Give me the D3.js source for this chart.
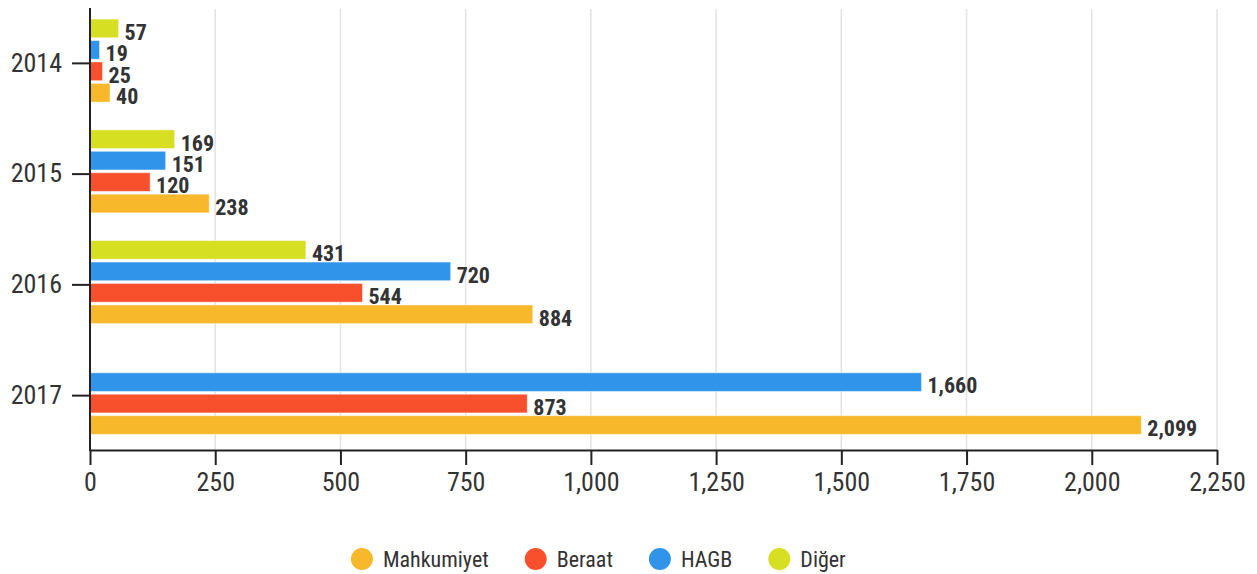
<!DOCTYPE html>
<html><head><meta charset="utf-8">
<script src="https://cdn.jsdelivr.net/npm/d3@7"></script>
<style>body{margin:0;background:#fff}</style></head>
<body><svg id="c" width="1257" height="574"></svg>
<script>
const years = ["2014", "2015", "2016", "2017"];
const seriesNames = ["Mahkumiyet", "Beraat", "HAGB", "Diğer"];
const mahkumiyet = [40, 238, 884, 2099];
const beraat = [25, 120, 544, 873];
const hagb = [19, 151, 720, 1660];
const diger = [57, 169, 431, null];
const xTicks = [0, 250, 500, 750, 1000, 1250, 1500, 1750, 2000, 2250];
const colors = ["#f7b92b", "#f84f2d", "#3095ea", "#d7df23"];

function avail(f) {
  const c = document.createElement("canvas").getContext("2d");
  const s = "Mahkumiyet 2014 HAGB";
  c.font = "40px monospace"; const a = c.measureText(s).width;
  c.font = `40px "${f}", monospace`; const b = c.measureText(s).width;
  return a !== b;
}
const font = ["Roboto Condensed", "Liberation Sans Narrow", "Arial Narrow", "DejaVu Sans Condensed", "Roboto"].find(avail) || "Roboto";

const seriesValues = [mahkumiyet, beraat, hagb, diger];
const svg = d3.select("#c").style("font-family", `"${font}", sans-serif`);

const x = d3.scaleLinear().domain([0, 2250]).range([90, 1217]);
const y = d3.scaleBand().domain(years).range([8, 451]);
const slotOrder = ["Diğer", "HAGB", "Beraat", "Mahkumiyet"];
const inner = d3.scaleBand().domain(slotOrder).range([0, y.bandwidth()])
  .paddingInner(0.13).paddingOuter(0.647).align(0.4);

// gridlines
svg.append("g").selectAll("line").data(xTicks.filter(d => d > 0)).join("line")
  .attr("x1", d => x(d)).attr("x2", d => x(d))
  .attr("y1", 9).attr("y2", 450)
  .attr("stroke", "#e3e3e3").attr("stroke-width", 1.5);

// bars
const rows = [];
years.forEach((yr, i) => {
  seriesNames.forEach((s, j) => {
    const v = seriesValues[j][i];
    if (v != null) rows.push({ yr, s, v, c: colors[j] });
  });
});
const g = svg.append("g");
g.selectAll("rect").data(rows).join("rect")
  .attr("x", x(0))
  .attr("y", d => y(d.yr) + inner(d.s))
  .attr("width", d => x(d.v) - x(0))
  .attr("height", inner.bandwidth())
  .attr("fill", d => d.c)
  .attr("stroke", "rgba(255,255,255,0.45)").attr("stroke-width", 1);

g.selectAll("text").data(rows).join("text")
  .attr("x", d => x(d.v) + 6)
  .attr("y", d => y(d.yr) + inner(d.s) + inner.bandwidth() + 2)
  .attr("font-size", 22).attr("font-weight", "bold").attr("fill", "#333")
  .text(d => d3.format(",")(d.v));

// x axis
const xa = svg.append("g").attr("transform", "translate(0,450)")
  .call(d3.axisBottom(x).tickValues(xTicks).tickFormat(d3.format(",")).tickSize(15).tickSizeOuter(0).tickPadding(8));
xa.select(".domain").attr("stroke", "#222").attr("stroke-width", 2);
xa.selectAll(".tick line").attr("stroke", "#222").attr("stroke-width", 2);
xa.selectAll(".tick text").attr("font-size", 26).attr("fill", "#333");

// y axis
const ya = svg.append("g").attr("transform", "translate(90,0)")
  .call(d3.axisLeft(y).tickSize(18).tickSizeOuter(0).tickPadding(10));
ya.select(".domain").attr("stroke", "#222").attr("stroke-width", 2)
  .attr("d", "M0,8V451");
ya.selectAll(".tick line").attr("stroke", "#222").attr("stroke-width", 2);
ya.selectAll(".tick text").attr("font-size", 26).attr("fill", "#333");
svg.selectAll(".tick text").style("font-family", `"${font}", sans-serif`);

// legend
const lg = svg.append("g");
const items = lg.selectAll("g").data(seriesNames).join("g");
items.append("circle").attr("r", 11).attr("cx", 11).attr("cy", 0).attr("fill", (d, i) => colors[i]);
items.append("text").attr("x", 32).attr("y", 0).attr("dy", "0.35em")
  .attr("font-size", 22).attr("fill", "#333").text(d => d);
let cx = 0;
items.each(function () {
  const w = this.getBBox().width;
  d3.select(this).attr("transform", `translate(${cx},559)`);
  cx += w + 36;
});
const total = cx - 36;
lg.attr("transform", `translate(${598.5 - total / 2},0)`);
</script>
</body></html>
